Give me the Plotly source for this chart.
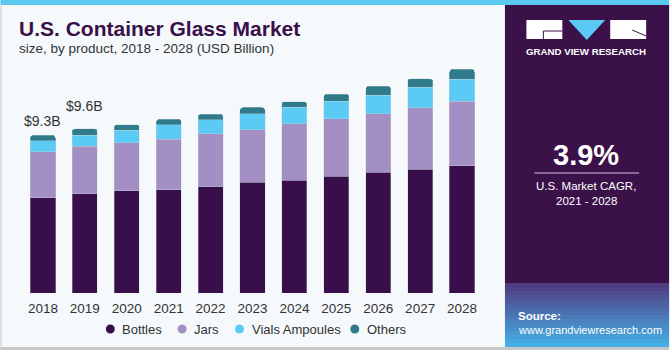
import plotly.graph_objects as go

years = ["2018", "2019", "2020", "2021", "2022", "2023", "2024", "2025", "2026", "2027", "2028"]
bottles = [5.59, 5.82, 6.00, 6.06, 6.23, 6.49, 6.61, 6.84, 7.08, 7.27, 7.47]
jars = [2.70, 2.80, 2.82, 2.97, 3.11, 3.10, 3.32, 3.40, 3.44, 3.60, 3.78]
vials = [0.65, 0.63, 0.74, 0.84, 0.82, 0.94, 0.98, 1.01, 1.08, 1.20, 1.31]
others = [0.33, 0.39, 0.33, 0.33, 0.33, 0.36, 0.33, 0.43, 0.53, 0.50, 0.57]
series_names = ["Bottles", "Jars", "Vials Ampoules", "Others"]
value_labels = {"2018": "$9.3B", "2019": "$9.6B"}

colors = ["#380f4a", "#a48fc4", "#5bcaf5", "#2f7a8b"]
W, H = 670, 350
L, R = 21.5, 483.5
T, B = 63, 293
YMAX = 13.5


def px(x):
    return (x - L) / (R - L)


def py(y):
    return (B - y) / (B - T)


fig = go.Figure()
for name, vals, col in zip(series_names, [bottles, jars, vials, others], colors):
    fig.add_trace(go.Bar(
        x=years, y=vals, name=name, marker=dict(color=col, line=dict(color="rgba(200,210,220,0.6)", width=0.6)),
        showlegend=False, hoverinfo="skip"))

totals = [a + b + c + d for a, b, c, d in zip(bottles, jars, vials, others)]
shifts = {"2018": 14, "2019": 23}
annotations = []
for yr, lab in value_labels.items():
    i = years.index(yr)
    annotations.append(dict(x=i, y=totals[i], xref="x", yref="y", text=lab, showarrow=False,
                            yshift=shifts[yr], yanchor="middle",
                            font=dict(size=14, color="#333333", family="Liberation Sans")))

paper_font = "Liberation Sans"
annotations += [
    dict(x=px(16), y=py(29), xref="paper", yref="paper", text="<b>U.S. Container Glass Market</b>",
         showarrow=False, xanchor="left", yanchor="middle",
         font=dict(size=21, color="#3a1048", family=paper_font)),
    dict(x=px(16), y=py(49), xref="paper", yref="paper", text="size, by product, 2018 - 2028 (USD Billion)",
         showarrow=False, xanchor="left", yanchor="middle",
         font=dict(size=13.5, color="#333333", family=paper_font)),
    dict(x=px(587), y=py(51), xref="paper", yref="paper", text="<b>GRAND VIEW RESEARCH</b>",
         showarrow=False, xanchor="center", yanchor="middle",
         font=dict(size=9.7, color="#ffffff", family=paper_font)),
    dict(x=px(587), y=py(155), xref="paper", yref="paper", text="<b>3.9%</b>",
         showarrow=False, xanchor="center", yanchor="middle",
         font=dict(size=29, color="#ffffff", family=paper_font)),
    dict(x=px(587), y=py(186), xref="paper", yref="paper", text="U.S. Market CAGR,",
         showarrow=False, xanchor="center", yanchor="middle",
         font=dict(size=11.5, color="#ffffff", family=paper_font)),
    dict(x=px(587), y=py(201), xref="paper", yref="paper", text="2021 - 2028",
         showarrow=False, xanchor="center", yanchor="middle",
         font=dict(size=11.5, color="#ffffff", family=paper_font)),
    dict(x=px(517), y=py(316), xref="paper", yref="paper", text="<b>Source:</b>",
         showarrow=False, xanchor="left", yanchor="middle",
         font=dict(size=11.5, color="#ffffff", family=paper_font)),
    dict(x=px(517), y=py(330), xref="paper", yref="paper", text="www.grandviewresearch.com",
         showarrow=False, xanchor="left", yanchor="middle",
         font=dict(size=11, color="#ffffff", family=paper_font)),
]

shapes = []
# legend (manual, circle markers)
legend_marker_x = [110, 182, 239.5, 355]
legend_y = 329
for name, col, mx in zip(series_names, colors, legend_marker_x):
    shapes.append(dict(type="circle", xref="paper", yref="paper",
                       x0=px(mx - 4.5), x1=px(mx + 4.5), y0=py(legend_y - 4.5), y1=py(legend_y + 4.5),
                       fillcolor=col, line=dict(width=0)))
    annotations.append(dict(x=px(mx + 10), y=py(legend_y), xref="paper", yref="paper", text=name,
                            showarrow=False, xanchor="left", yanchor="middle",
                            font=dict(size=13, color="#333333", family=paper_font)))
# top stripe
shapes.append(dict(type="rect", xref="paper", yref="paper", x0=px(0), x1=px(W), y0=py(0), y1=py(5),
                   fillcolor="#5bc8f0", line=dict(width=0), layer="below"))
# right panel purple
shapes.append(dict(type="rect", xref="paper", yref="paper", x0=px(505.5), x1=px(W), y0=py(5), y1=py(283),
                   fillcolor="#3a1149", line=dict(width=0), layer="below"))
# gradient bottom of right panel
n = 16
c0 = (80, 60, 130)
c1 = (70, 175, 230)
for k in range(n):
    t = k / (n - 1)
    c = tuple(int(c0[j] + (c1[j] - c0[j]) * t) for j in range(3))
    y0 = 283 + k * (64 / n)
    shapes.append(dict(type="rect", xref="paper", yref="paper", x0=px(505.5), x1=px(W),
                       y0=py(y0), y1=py(y0 + 64 / n + 0.5),
                       fillcolor="rgb(%d,%d,%d)" % c, line=dict(width=0), layer="below"))
# logo
shapes.append(dict(type="rect", xref="paper", yref="paper", x0=px(527), x1=px(563), y0=py(20), y1=py(39),
                   fillcolor="#ffffff", line=dict(width=0)))
shapes.append(dict(type="path", xref="paper", yref="paper",
                   path="M %f,%f L %f,%f L %f,%f Z" % (px(569), py(20), px(606), py(20), px(587.5), py(40)),
                   fillcolor="#5bc8f5", line=dict(width=0)))
shapes.append(dict(type="rect", xref="paper", yref="paper", x0=px(611), x1=px(647), y0=py(20), y1=py(39),
                   fillcolor="#ffffff", line=dict(width=0)))
shapes.append(dict(type="line", xref="paper", yref="paper", x0=px(544), x1=px(563), y0=py(31), y1=py(31),
                   line=dict(color="#3a1149", width=1)))
shapes.append(dict(type="line", xref="paper", yref="paper", x0=px(544), x1=px(544), y0=py(31), y1=py(39),
                   line=dict(color="#3a1149", width=1)))
shapes.append(dict(type="line", xref="paper", yref="paper", x0=px(633), x1=px(647), y0=py(30), y1=py(36),
                   line=dict(color="#3a1149", width=1)))
# divider under CAGR
shapes.append(dict(type="line", xref="paper", yref="paper", x0=px(535), x1=px(640), y0=py(173), y1=py(173),
                   line=dict(color="#cfc3dd", width=1)))
# borders
shapes.append(dict(type="line", xref="paper", yref="paper", x0=px(0.5), x1=px(0.5), y0=py(5), y1=py(350),
                   line=dict(color="#c8c8c8", width=1)))
shapes.append(dict(type="line", xref="paper", yref="paper", x0=px(0), x1=px(W), y0=py(348.5), y1=py(348.5),
                   line=dict(color="#c8c8c8", width=3)))

fig.update_layout(
    width=W, height=H,
    margin=dict(l=L, r=W - R, t=T, b=H - B, pad=0),
    paper_bgcolor="#f5f9fc", plot_bgcolor="#f5f9fc",
    barmode="stack", bargap=0.4, barcornerradius=3,
    font=dict(family=paper_font, color="#333333"),
    showlegend=False,
    xaxis=dict(type="category", range=[-0.5, 10.5], showgrid=False, zeroline=False, showline=False,
               ticks="", ticklabelstandoff=5, tickfont=dict(size=13.5, color="#333333"), fixedrange=True),
    yaxis=dict(range=[0, YMAX], visible=False, fixedrange=True),
    annotations=annotations, shapes=shapes,
)

fig.write_html("out.html")
